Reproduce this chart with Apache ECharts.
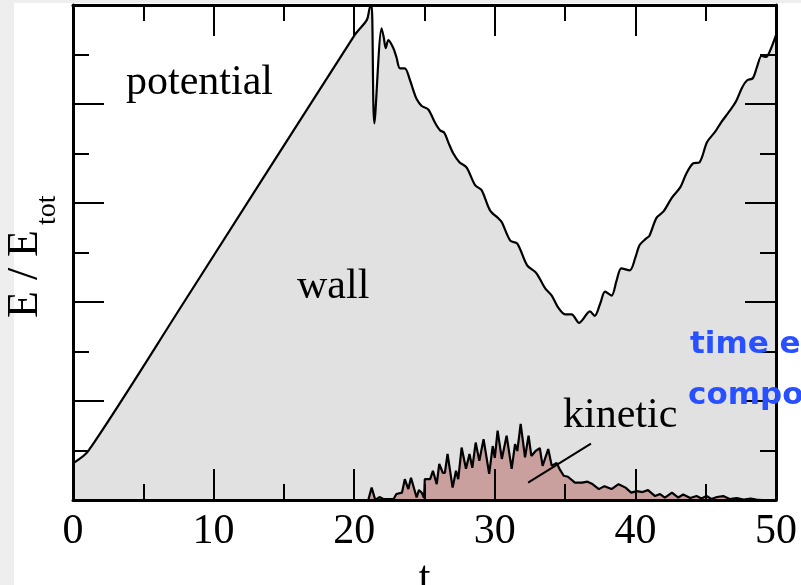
<!DOCTYPE html>
<html>
<head>
<meta charset="utf-8">
<title>E / Etot vs t</title>
<script src="https://cdn.jsdelivr.net/npm/echarts@6/dist/echarts.min.js"></script>
<style>
  html, body { margin: 0; padding: 0; background: #ffffff; }
  #wrap { position: relative; width: 801px; height: 585px; overflow: hidden; background: #ffffff; }
  #stripLeft { position: absolute; left: 0; top: 0; width: 14px; height: 585px; background: #eeeeee; }
  #stripTop { position: absolute; left: 0; top: 0; width: 801px; height: 3px; background: #eeeeee; }
  #chart { position: absolute; left: 0; top: 0; width: 801px; height: 585px; }
</style>
</head>
<body>
<div id="wrap">
  <div id="stripLeft"></div>
  <div id="stripTop"></div>
  <div id="chart"></div>
</div>
<script>
// Upper boundary: kinetic + wall energy fraction (everything above it is potential)
const boundaryT = [
  0, 1.09, 7.97, 20.05, 20.9, 21.1, 21.24, 21.43, 21.95, 22.1, 22.24, 22.43, 22.78, 23.0,
  23.26, 23.6, 23.97, 24.2, 24.44, 24.8, 25.27, 25.75, 26.1, 26.4, 26.7, 27.05, 27.5,
  27.99, 28.6, 29.06, 29.66, 30.25, 30.5, 31.1, 31.6, 32.3, 32.9, 33.2, 33.6, 34.05,
  34.5, 35.0, 35.46, 36.0, 36.77, 37.1, 37.5, 37.84, 38.3, 38.66, 39.0, 39.6, 40.0,
  40.3, 40.75, 41.0, 41.5, 42.0, 42.6, 43.2, 43.6, 44.1, 44.55, 45.1, 45.7, 46.1,
  46.6, 47.15, 47.6, 47.95, 48.35, 48.65, 48.97, 49.3, 49.6, 50
];
const boundaryE = [
  0.074, 0.099, 0.403, 0.940, 0.970, 0.994, 1.0, 0.761, 0.953, 0.935, 0.913, 0.929, 0.913, 0.895,
  0.872, 0.872, 0.848, 0.828, 0.810, 0.796, 0.789, 0.762, 0.747, 0.742, 0.722, 0.700, 0.682,
  0.672, 0.636, 0.626, 0.585, 0.569, 0.561, 0.524, 0.518, 0.474, 0.460, 0.447, 0.427, 0.413,
  0.389, 0.375, 0.375, 0.358, 0.381, 0.372, 0.397, 0.421, 0.413, 0.443, 0.468, 0.464, 0.490,
  0.515, 0.528, 0.534, 0.570, 0.583, 0.611, 0.632, 0.658, 0.680, 0.682, 0.723, 0.745, 0.763,
  0.782, 0.805, 0.834, 0.848, 0.852, 0.875, 0.897, 0.895, 0.909, 0.939
];

// Kinetic energy fraction
const kineticT = [
  0, 21.0, 21.24, 21.5, 21.8, 22.07, 22.8, 23.0, 23.4, 23.6, 23.85, 24.04, 24.44, 24.6,
  24.8, 24.97, 25.02, 25.4, 25.6, 25.87, 26.05, 26.3, 26.45, 26.64, 27.0, 27.24, 27.4,
  27.64, 27.95, 28.2, 28.4, 28.64, 28.9, 29.2, 29.6, 29.85, 30.0, 30.2, 30.5, 30.84,
  31.2, 31.44, 31.6, 31.84, 32.15, 32.4, 32.6, 32.9, 33.2, 33.4, 33.8, 34.05, 34.15,
  34.4, 34.6, 34.9, 35.2, 35.7, 36.2, 36.6, 36.9, 37.4, 37.8, 38.3, 38.8, 39.3, 39.7,
  40.1, 40.5, 40.9, 41.4, 41.75, 42.1, 42.6, 43.05, 43.4, 43.9, 44.35, 44.7, 45.06,
  45.4, 45.8, 46.25, 46.7, 47.2, 47.7, 48.2, 48.6, 49.0, 50
];
const kineticE = [
  0, 0, 0.025, 0.0, 0.006, 0.002, 0.002, 0.012, 0.015, 0.042, 0.022, 0.045, 0.005, 0.020,
  0.015, 0.004, 0.042, 0.042, 0.059, 0.032, 0.073, 0.055, 0.055, 0.093, 0.025, 0.059, 0.042,
  0.106, 0.063, 0.093, 0.065, 0.116, 0.079, 0.123, 0.053, 0.109, 0.085, 0.140, 0.083, 0.130,
  0.063, 0.113, 0.099, 0.154, 0.086, 0.130, 0.089, 0.099, 0.105, 0.069, 0.103, 0.069, 0.069,
  0.075, 0.063, 0.049, 0.047, 0.035, 0.035, 0.037, 0.033, 0.022, 0.028, 0.022, 0.032, 0.025, 0.015,
  0.018, 0.016, 0.020, 0.008, 0.012, 0.005, 0.015, 0.005, 0.011, 0.004, 0.008, 0.003, 0.008,
  0.002, 0.006, 0.008, 0.002, 0.004, 0.001, 0.003, 0.001, 0.0, 0.0
];

// Leader line from the "kinetic" label down into the kinetic area (data coords)
const kineticPointer = [[32.37, 0.035], [36.84, 0.114]];

const serif = '"Liberation Serif", "Times New Roman", serif';
const blueFont = 'bold 31px "Comic Sans MS", "DejaVu Sans", sans-serif';

const pairs = (xs, ys) => xs.map((x, i) => [x, ys[i]]);

const chart = echarts.init(document.getElementById('chart'), null, { renderer: 'canvas' });

function axisBase(extra) {
  return Object.assign({
    type: 'value',
    z: 10,
    axisLine: { show: true, onZero: false, lineStyle: { color: '#000', width: 3 } },
    axisTick: { show: true, inside: true, length: 31, lineStyle: { color: '#000', width: 2 } },
    minorTick: { show: true, splitNumber: 2, length: 16, lineStyle: { color: '#000', width: 2 } },
    splitLine: { show: false },
    minorSplitLine: { show: false },
    axisLabel: { show: false }
  }, extra);
}

chart.setOption({
  animation: false,
  backgroundColor: 'transparent',
  grid: {
    left: 73, right: 25, top: 5, bottom: 85,
    containLabel: false, outerBoundsMode: 'none',
    show: true, backgroundColor: '#ffffff', borderWidth: 0
  },
  xAxis: [
    axisBase({
      position: 'bottom', min: 0, max: 50, interval: 10,
      axisLabel: { show: true, margin: 11, color: '#000', fontFamily: serif, fontSize: 42 },
      name: 't', nameLocation: 'middle', nameGap: 53,
      nameTextStyle: { color: '#000', fontFamily: serif, fontSize: 42 }
    }),
    axisBase({ position: 'top', min: 0, max: 50, interval: 10 })
  ],
  yAxis: [
    axisBase({ position: 'left', min: 0, max: 1, interval: 0.2 }),
    axisBase({ position: 'right', min: 0, max: 1, interval: 0.2 })
  ],
  series: [
    {
      name: 'wall',
      type: 'line',
      xAxisIndex: 0, yAxisIndex: 0,
      data: pairs(boundaryT, boundaryE),
      smooth: 0.3,
      symbol: 'none',
      z: 2,
      lineStyle: { color: '#000', width: 2.2 },
      areaStyle: { color: '#e1e1e1', opacity: 1 }
    },
    {
      name: 'kinetic',
      type: 'line',
      xAxisIndex: 0, yAxisIndex: 0,
      data: pairs(kineticT, kineticE),
      symbol: 'none',
      z: 3,
      lineStyle: { color: '#000', width: 2.2 },
      areaStyle: { color: '#c9a09e', opacity: 1 },
      markLine: {
        silent: true,
        symbol: 'none',
        label: { show: false },
        lineStyle: { color: '#000', width: 2, type: 'solid' },
        data: [[{ coord: kineticPointer[0] }, { coord: kineticPointer[1] }]]
      }
    }
  ],
  graphic: [
    { type: 'text', left: 126, top: 62, z: 20,
      style: { text: 'potential', fill: '#000', font: '42px ' + serif } },
    { type: 'text', left: 297, top: 266, z: 20,
      style: { text: 'wall', fill: '#000', font: '42px ' + serif } },
    { type: 'text', left: 563, top: 395, z: 20,
      style: { text: 'kinetic', fill: '#000', font: '42px ' + serif } },
    {
      type: 'group', x: 40, y: 318, rotation: Math.PI / 2, z: 20,
      children: [
        { type: 'text', x: 0, y: -15,
          style: { text: 'E / E', fill: '#000', font: '44px ' + serif, verticalAlign: 'middle', align: 'left' } },
        { type: 'text', x: 93, y: 8,
          style: { text: 'tot', fill: '#000', font: '28px ' + serif, verticalAlign: 'middle', align: 'left' } }
      ]
    },
    { type: 'text', x: 690, y: 345, z: 30,
      style: { text: 'time evolution', fill: '#2850ff', font: blueFont, verticalAlign: 'middle', align: 'left' } },
    { type: 'text', x: 688, y: 396, z: 30,
      style: { text: 'components', fill: '#2850ff', font: blueFont, verticalAlign: 'middle', align: 'left' } }
  ]
});
</script>
</body>
</html>
